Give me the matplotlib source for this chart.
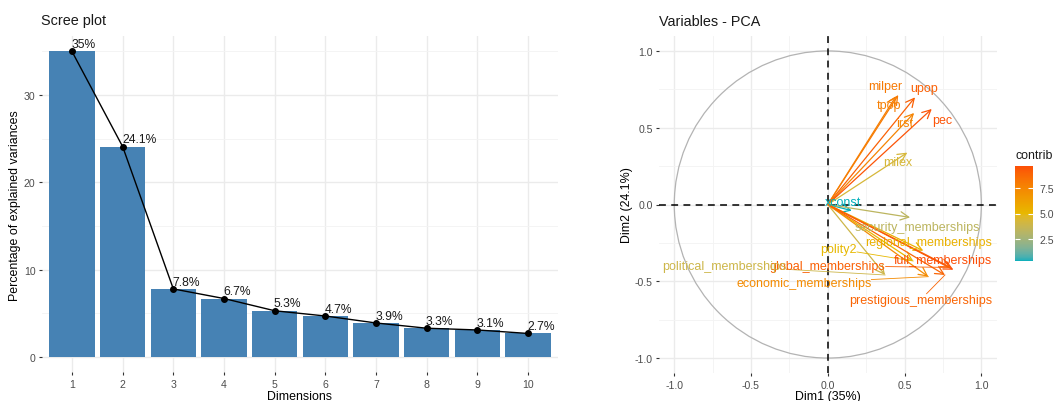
import matplotlib.pyplot as plt
import numpy as np
from matplotlib.colors import ListedColormap, Normalize, to_rgb
from matplotlib.cm import ScalarMappable
from matplotlib.patches import Circle
from matplotlib.ticker import FormatStrFormatter

plt.rcParams['font.family'] = ['Liberation Sans', 'DejaVu Sans']
plt.rcParams['axes.unicode_minus'] = False

# scree plot values (% of explained variance per dimension)
dims = [1, 2, 3, 4, 5, 6, 7, 8, 9, 10]
explained = [35.0, 24.1, 7.8, 6.7, 5.3, 4.7, 3.9, 3.3, 3.1, 2.7]

# variable coordinates on Dim1 / Dim2 and their contributions
var_names = ['milper', 'tpop', 'upop', 'irst', 'pec', 'milex', 'xconst',
             'security_memberships', 'regional_memberships', 'polity2',
             'full_memberships', 'global_memberships', 'political_memberships',
             'economic_memberships', 'prestigious_memberships']
dim1 = [0.459, 0.444, 0.568, 0.562, 0.677, 0.518, 0.156,
        0.536, 0.622, 0.556, 0.818, 0.800, 0.373, 0.655, 0.763]
dim2 = [0.713, 0.705, 0.698, 0.596, 0.622, 0.338, -0.040,
        -0.084, -0.301, -0.368, -0.425, -0.410, -0.459, -0.470, -0.459]
contrib = [8.1, 7.8, 9.1, 7.6, 9.5, 4.3, 0.3,
           3.3, 5.4, 5.0, 9.7, 9.1, 3.9, 7.3, 8.9]

# where the repelled labels ended up
label_pos = {
    'milper': (0.372, 0.773), 'upop': (0.629, 0.757), 'tpop': (0.401, 0.648),
    'irst': (0.499, 0.529), 'pec': (0.742, 0.552), 'milex': (0.455, 0.275),
    'xconst': (0.100, 0.018), 'security_memberships': (0.584, -0.145),
    'regional_memberships': (0.657, -0.242), 'polity2': (0.071, -0.290),
    'full_memberships': (0.747, -0.362), 'political_memberships': (-0.673, -0.399),
    'global_memberships': (0.000, -0.399), 'economic_memberships': (-0.157, -0.511),
    'prestigious_memberships': (0.605, -0.620),
}

W, H = 1054, 402
fig = plt.figure(figsize=(W / 100, H / 100), dpi=100)

grid_major = dict(color='#EBEBEB', lw=1.0)
grid_minor = dict(color='#F3F3F3', lw=0.6)
tick_col = '#4D4D4D'
txt_col = '#1A1A1A'


def style_axes(ax):
    for s in ax.spines.values():
        s.set_visible(False)
    ax.tick_params(length=2.5, width=0.8, color='#333333', labelcolor=tick_col,
                   labelsize=7.6, pad=2)
    ax.set_axisbelow(True)


# gradient interpolated in CIELAB, like ggplot's scale_color_gradientn
M = np.array([[0.4124, 0.3576, 0.1805],
              [0.2126, 0.7152, 0.0722],
              [0.0193, 0.1192, 0.9505]])
WHITE = np.array([0.95047, 1.0, 1.08883])


def rgb_to_lab(rgb):
    c = np.asarray(rgb, float)
    lin = np.where(c <= 0.04045, c / 12.92, ((c + 0.055) / 1.055) ** 2.4)
    t = (M @ lin) / WHITE
    f = np.where(t > 0.008856, np.cbrt(t), 7.787 * t + 16 / 116)
    return np.array([116 * f[1] - 16, 500 * (f[0] - f[1]), 200 * (f[1] - f[2])])


def lab_to_rgb(lab):
    L, a, b = lab
    fy = (L + 16) / 116
    f = np.array([fy + a / 500, fy, fy - b / 200])
    t = np.where(f ** 3 > 0.008856, f ** 3, (f - 16 / 116) / 7.787) * WHITE
    lin = np.linalg.solve(M, t)
    lin = np.clip(lin, 0, 1)
    c = np.where(lin <= 0.0031308, 12.92 * lin, 1.055 * lin ** (1 / 2.4) - 0.055)
    return np.clip(c, 0, 1)


stops = [rgb_to_lab(to_rgb(h)) for h in ['#00AFBB', '#E7B800', '#FC4E07']]
lut = []
for u in np.linspace(0, 1, 256):
    seg = min(int(u * 2), 1)
    k = u * 2 - seg
    lut.append(lab_to_rgb(stops[seg] * (1 - k) + stops[seg + 1] * k))
cmap = ListedColormap(lut)
norm = Normalize(vmin=min(contrib), vmax=max(contrib))
colors = [cmap(norm(c)) for c in contrib]

# ---- scree plot ----
ax1 = fig.add_axes([41.6 / W, 1 - 373.3 / H, 516.8 / W, 336.1 / H])
style_axes(ax1)
ax1.bar(dims, explained, width=0.9, color='#4682B4', zorder=2)
ax1.plot(dims, explained, color='black', lw=1.0, zorder=3)
ax1.plot(dims, explained, 'o', color='black', ms=4, zorder=4)
for d, v in zip(dims, explained):
    ax1.annotate(f'{v:g}%', (d, v), xytext=(-0.5, 1.0), textcoords='offset points',
                 ha='left', va='bottom', fontsize=8.7, color=txt_col, zorder=5)
ax1.set_xlim(0.4, 10.6)
ax1.set_ylim(-1.75, 36.75)
ax1.set_xticks(dims)
ax1.set_yticks([0, 10, 20, 30])
ax1.set_yticks([5, 15, 25, 35], minor=True)
ax1.tick_params(which='minor', length=0)
ax1.grid(True, which='major', **grid_major)
ax1.grid(True, which='minor', axis='y', **grid_minor)
ax1.set_xlabel('Dimensions', fontsize=8.9)
ax1.set_ylabel('Percentage of explained variances', fontsize=8.9)
ax1.xaxis.label.set_va('center')
ax1.yaxis.label.set_va('center')
ax1.xaxis.set_label_coords(0.5, (H - 397 - (H - 373.3)) / 336.1)
ax1.yaxis.set_label_coords((15 - 41.6) / 516.8, 0.5)
fig.text(41 / W, 1 - 21 / H, 'Scree plot', fontsize=10.4, va='center', ha='left',
         color=txt_col)

# ---- variables - PCA ----
ax2 = fig.add_axes([658.9 / W, 1 - 374.4 / H, 337.8 / W, 337.8 / H])
style_axes(ax2)
ticks = [-1.0, -0.5, 0.0, 0.5, 1.0]
minor = [-0.75, -0.25, 0.25, 0.75]
ax2.set_xticks(ticks)
ax2.set_yticks(ticks)
ax2.set_xticks(minor, minor=True)
ax2.set_yticks(minor, minor=True)
ax2.tick_params(which='minor', length=0)
ax2.xaxis.set_major_formatter(FormatStrFormatter('%.1f'))
ax2.yaxis.set_major_formatter(FormatStrFormatter('%.1f'))
ax2.grid(True, which='major', **grid_major)
ax2.grid(True, which='minor', **grid_minor)
ax2.set_xlim(-1.1, 1.1)
ax2.set_ylim(-1.1, 1.1)

ax2.add_patch(Circle((0, 0), 1, fill=False, color='#B3B3B3', lw=0.9, zorder=1))
ax2.axhline(0, color='black', ls=(0, (4.5, 3.5)), lw=1.1, zorder=2)
ax2.axvline(0, color='black', ls=(0, (4.5, 3.5)), lw=1.1, zorder=2)

texts = []
for name, x, y, c in zip(var_names, dim1, dim2, colors):
    ax2.annotate('', xy=(x, y), xytext=(0, 0),
                 arrowprops=dict(arrowstyle='->,head_length=0.6,head_width=0.3',
                                 color=c, lw=0.9, shrinkA=0, shrinkB=0),
                 zorder=3)
    lx, ly = label_pos[name]
    texts.append(ax2.text(lx, ly, name, color=c, fontsize=9, ha='center',
                          va='center', zorder=4))

# connector segments from displaced labels back to their arrow tips
fig.canvas.draw()
renderer = fig.canvas.get_renderer()
inv = ax2.transData.inverted()
for t, x, y, c in zip(texts, dim1, dim2, colors):
    bb = t.get_window_extent(renderer)
    tx, ty = ax2.transData.transform((x, y))
    cx, cy = (bb.x0 + bb.x1) / 2, (bb.y0 + bb.y1) / 2
    dx, dy = tx - cx, ty - cy
    sx = (bb.width / 2) / abs(dx) if dx else np.inf
    sy = (bb.height / 2) / abs(dy) if dy else np.inf
    s = min(sx, sy)
    if s >= 1 or np.hypot(dx, dy) * (1 - s) < 10:
        continue
    x0, y0 = inv.transform((cx + dx * s, cy + dy * s))
    ax2.plot([x0, x], [y0, y], color=c, lw=0.6, zorder=3)

ax2.set_xlabel('Dim1 (35%)', fontsize=8.9)
ax2.set_ylabel('Dim2 (24.1%)', fontsize=8.9)
ax2.xaxis.label.set_va('center')
ax2.yaxis.label.set_va('center')
ax2.xaxis.set_label_coords(0.5, (H - 397 - (H - 374.4)) / 337.8)
ax2.yaxis.set_label_coords((627 - 658.9) / 337.8, 0.5)
fig.text(659 / W, 1 - 22 / H, 'Variables - PCA', fontsize=10.4, va='center',
         ha='left', color=txt_col)

# colour bar legend
cax = fig.add_axes([1015 / W, 1 - 262 / H, 18 / W, 95 / H])
cb = fig.colorbar(ScalarMappable(norm=norm, cmap=cmap), cax=cax)
cb.outline.set_visible(False)
cb.set_ticks([2.5, 5.0, 7.5])
cb.set_ticklabels(['2.5', '5.0', '7.5'])
cax.tick_params(axis='y', direction='in', color='white', length=3.6, width=0.8,
                left=True, right=True, labelsize=7.6, labelcolor=tick_col, pad=5)
cax.set_title('contrib', loc='left', fontsize=8.9, pad=6, color=txt_col)

fig.savefig('out.png', dpi=100)
